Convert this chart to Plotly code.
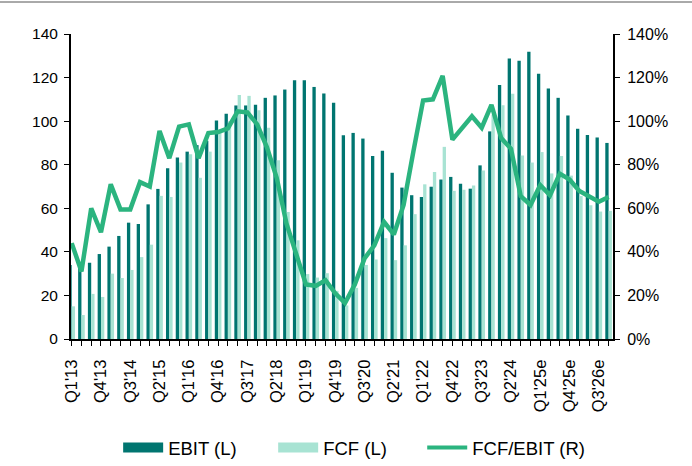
import plotly.graph_objects as go

# quarterly labels, Q1'13 .. Q4'26e
quarters = [
    "Q1'13", "Q2'13", "Q3'13", "Q4'13", "Q1'14", "Q2'14", "Q3'14", "Q4'14",
    "Q1'15", "Q2'15", "Q3'15", "Q4'15", "Q1'16", "Q2'16", "Q3'16", "Q4'16",
    "Q1'17", "Q2'17", "Q3'17", "Q4'17", "Q1'18", "Q2'18", "Q3'18", "Q4'18",
    "Q1'19", "Q2'19", "Q3'19", "Q4'19", "Q1'20", "Q2'20", "Q3'20", "Q4'20",
    "Q1'21", "Q2'21", "Q3'21", "Q4'21", "Q1'22", "Q2'22", "Q3'22", "Q4'22",
    "Q1'23", "Q2'23", "Q3'23", "Q4'23", "Q1'24", "Q2'24", "Q3'24", "Q4'24",
    "Q1'25e", "Q2'25e", "Q3'25e", "Q4'25e", "Q1'26e", "Q2'26e", "Q3'26e", "Q4'26e",
]

ebit = [
    34, 35, 35, 39, 42.4, 47.3, 53.4, 52.8,
    61.8, 68.9, 78.4, 83.3, 86, 89, 91, 100.3,
    103.4, 107.2, 107.2, 107.5, 110.7, 111.8, 114.5, 118.8,
    118.8, 115.7, 112.7, 108.4, 93.5, 94.6, 92, 84,
    86.4, 76.3, 69.5, 66, 65.2, 69.9, 73.2, 74.4,
    71.3, 69, 79.7, 95.3, 116.6, 128.8, 127.7, 131.8,
    121.8, 115, 110.7, 102.6, 96.5, 93.6, 92.5, 90,
]

fcf = [
    15, 11, 20.7, 19.3, 30, 28, 31.7, 37.6,
    43.3, 65.7, 65.2, 81, 84.8, 74, 86, 95,
    100, 112, 111.6, 105, 97, 82, 58.3, 45.3,
    29.8, 28.2, 30.2, 22.1, 15.4, 23.5, 34, 36.5,
    46.3, 36.2, 43, 57.3, 71, 76.7, 88.2, 68,
    68.5, 70.5, 77.3, 103, 107.3, 112.6, 84.2, 81,
    85.8, 76, 84, 75, 65.6, 61.4, 58.5, 58.8,
]

fcf_ebit = [
    0.44, 0.31, 0.60, 0.49, 0.71, 0.595, 0.595, 0.72,
    0.70, 0.955, 0.83, 0.975, 0.985, 0.83, 0.945, 0.95,
    0.967, 1.045, 1.04, 0.985, 0.88, 0.74, 0.53, 0.39,
    0.25, 0.244, 0.27, 0.21, 0.165, 0.25, 0.37, 0.43,
    0.537, 0.48, 0.615, 0.86, 1.095, 1.10, 1.208, 0.915,
    0.97, 1.022, 0.97, 1.075, 0.922, 0.873, 0.656, 0.615,
    0.706, 0.66, 0.759, 0.732, 0.68, 0.653, 0.63, 0.652,
]

EBIT_COLOR = "#007570"
FCF_COLOR = "#a8e3d3"
LINE_COLOR = "#2bb47f"
FONT = "Liberation Sans, Arial, sans-serif"

tick_text = [q if i % 3 == 0 else "" for i, q in enumerate(quarters)]

fig = go.Figure()
fig.add_trace(go.Bar(x=quarters, y=ebit, name="EBIT (L)", marker_color=EBIT_COLOR,
                     marker_line_width=0, showlegend=False))
fig.add_trace(go.Bar(x=quarters, y=fcf, name="FCF (L)", marker_color=FCF_COLOR,
                     marker_line_width=0, showlegend=False))
fig.add_trace(go.Scatter(x=quarters, y=fcf_ebit, name="FCF/EBIT (R)", yaxis="y2",
                         mode="lines", line=dict(color=LINE_COLOR, width=4.5),
                         showlegend=False))

# legend entries drawn as wide swatches like the original, one legend box each
fig.add_trace(go.Scatter(x=[None], y=[None], name="EBIT (L)", mode="lines",
                         line=dict(color=EBIT_COLOR, width=10), legend="legend"))
fig.add_trace(go.Scatter(x=[None], y=[None], name="FCF (L)", mode="lines",
                         line=dict(color=FCF_COLOR, width=10), legend="legend2"))
fig.add_trace(go.Scatter(x=[None], y=[None], name="FCF/EBIT (R)", mode="lines",
                         line=dict(color=LINE_COLOR, width=4), legend="legend3"))

legend_style = dict(orientation="h", xanchor="left", y=-0.295, yanchor="top",
                    font=dict(size=18.5), itemwidth=40, bgcolor="rgba(0,0,0,0)")

fig.update_layout(
    width=692, height=466,
    margin=dict(l=71, r=79, t=34, b=127, autoexpand=False),
    paper_bgcolor="white", plot_bgcolor="white",
    font=dict(family=FONT, size=15, color="black"),
    barmode="group", bargap=0.32, bargroupgap=0,
    showlegend=True,
    legend=dict(x=0.087, **legend_style),
    legend2=dict(x=0.373, **legend_style),
    legend3=dict(x=0.648, **legend_style),
    xaxis=dict(
        type="category", range=[-0.07, 55.45],
        tickmode="array", tickvals=quarters, ticktext=tick_text,
        tickangle=-90, ticks="outside", ticklen=5, tickcolor="black",
        ticklabelstandoff=7,
        showline=True, linecolor="black", linewidth=2, showgrid=False,
        tickfont=dict(size=16.5),
    ),
    yaxis=dict(
        range=[0, 140], dtick=20, ticks="outside", ticklen=5, tickcolor="black",
        ticklabelstandoff=3,
        showline=True, linecolor="black", linewidth=2, showgrid=False, zeroline=False,
        tickfont=dict(size=15.5),
    ),
    yaxis2=dict(
        range=[0, 1.4], dtick=0.2, tickformat=".0%", overlaying="y", side="right",
        ticks="outside", ticklen=5, tickcolor="black",
        ticklabelstandoff=4,
        showline=True, linecolor="black", linewidth=2, showgrid=False, zeroline=False,
        tickfont=dict(size=16),
    ),
    shapes=[dict(type="line", xref="paper", yref="paper",
                 x0=-71 / 542, x1=621 / 542, y0=1 + 32 / 305, y1=1 + 32 / 305,
                 line=dict(color="#555555", width=1))],
)

fig.write_html("out.html", config={"displayModeBar": False},
               post_script="document.body.style.margin = '0';")
